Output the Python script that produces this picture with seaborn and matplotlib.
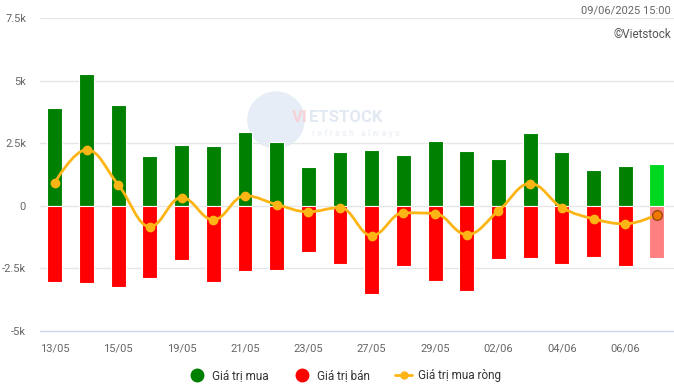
import numpy as np
import seaborn as sns
import matplotlib.pyplot as plt
from matplotlib.path import Path
from matplotlib.patches import PathPatch, Ellipse
from matplotlib.lines import Line2D

# du lieu (ty dong), doc tu bieu do
ngay = ['13/05', '14/05', '15/05', '16/05', '19/05', '20/05', '21/05', '22/05', '23/05', '26/05',
        '27/05', '28/05', '29/05', '30/05', '02/06', '03/06', '04/06', '05/06', '06/06', '09/06']
gia_tri_mua = [3920, 5280, 4040, 1970, 2440, 2400, 2960, 2560, 1560, 2160,
               2240, 2040, 2600, 2200, 1880, 2890, 2160, 1440, 1600, 1650]
gia_tri_ban = [-3030, -3080, -3240, -2880, -2160, -3030, -2600, -2560, -1840, -2310,
               -3520, -2400, -3000, -3400, -2120, -2080, -2310, -2040, -2400, -2080]
mua_rong = [930, 2240, 840, -830, 330, -560, 400, 50, -240, -70,
            -1190, -280, -310, -1150, -200, 890, -70, -520, -720, -360]
y_ticks = [-5000, -2500, 0, 2500, 5000, 7500]
y_labels = ['-5k', '-2.5k', '0', '2.5k', '5k', '7.5k']

sns.set_style('white')
plt.rcParams['font.family'] = ['Roboto', 'DejaVu Sans']

fig = plt.figure(figsize=(6.74, 3.85), dpi=100)
ax = fig.add_axes([40 / 674, 1 - 331 / 385, 634 / 674, 313 / 385])

n = len(ngay)
mau_mua = ['#008000'] * (n - 1) + ['#00D820']
mau_ban = ['#FF0000'] * (n - 1) + ['#FF8080']

for yt in y_ticks[1:]:
    ax.axhline(yt, color='#e6e6e6', lw=1, zorder=0)

# watermark (duoi cac cot)
ax.add_patch(Ellipse((276 / 674, 1 - 120 / 385), 56 / 674, 56 / 385, transform=fig.transFigure,
                     color='#e6edf6', zorder=0.5))
ax.text(292 / 674, 1 - 117 / 385, 'VI', transform=fig.transFigure, color='#f6d2d6', fontsize=12,
        fontweight='bold', va='center', zorder=0.6)
ax.text(309 / 674, 1 - 117 / 385, 'ETSTOCK', transform=fig.transFigure, color='#e2e9f3', fontsize=12,
        fontweight='bold', va='center', zorder=0.6)
ax.text(312 / 674, 1 - 133 / 385, 'r e f r e s h   a l w a y s', transform=fig.transFigure, color='#e8edf4',
        fontsize=6.5, va='center', zorder=0.6)

sns.barplot(x=ngay, y=gia_tri_mua, hue=ngay, palette=mau_mua, legend=False, width=0.47,
            saturation=1, edgecolor='white', linewidth=0.8, ax=ax, zorder=2)
sns.barplot(x=ngay, y=gia_tri_ban, hue=ngay, palette=mau_ban, legend=False, width=0.47,
            saturation=1, edgecolor='white', linewidth=0.8, ax=ax, zorder=2)

# duong cong kieu spline (highcharts)
xs = np.arange(n, dtype=float)
ys = np.array(mua_rong, dtype=float)
lc = [(xs[i], ys[i]) for i in range(n)]
rc = [(xs[i], ys[i]) for i in range(n)]
for i in range(1, n - 1):
    lx = (1.5 * xs[i] + xs[i - 1]) / 2.5
    ly = (1.5 * ys[i] + ys[i - 1]) / 2.5
    rx = (1.5 * xs[i] + xs[i + 1]) / 2.5
    ry = (1.5 * ys[i] + ys[i + 1]) / 2.5
    corr = ((ry - ly) * (rx - xs[i])) / (rx - lx) + ys[i] - ry
    ly += corr
    ry += corr
    if ly > ys[i - 1] and ly > ys[i]:
        ly = max(ys[i - 1], ys[i])
        ry = 2 * ys[i] - ly
    elif ly < ys[i - 1] and ly < ys[i]:
        ly = min(ys[i - 1], ys[i])
        ry = 2 * ys[i] - ly
    if ry > ys[i + 1] and ry > ys[i]:
        ry = max(ys[i + 1], ys[i])
        ly = 2 * ys[i] - ry
    elif ry < ys[i + 1] and ry < ys[i]:
        ry = min(ys[i + 1], ys[i])
        ly = 2 * ys[i] - ry
    lc[i] = (lx, ly)
    rc[i] = (rx, ry)
verts = [(xs[0], ys[0])]
codes = [Path.MOVETO]
for i in range(1, n):
    verts += [rc[i - 1], lc[i], (xs[i], ys[i])]
    codes += [Path.CURVE4] * 3
ax.add_patch(PathPatch(Path(verts, codes), fill=False, edgecolor='#FDB515', lw=2, zorder=3))
ax.plot(xs[:-1], ys[:-1], 'o', color='#FDB515', ms=6, mec='#FDB515', zorder=4)
ax.plot(xs[-1:], ys[-1:], 'o', color='#F07800', ms=7, mec='#9C4A10', mew=1, zorder=4)

ax.set_xlim(-0.47, n - 0.46)
ax.set_ylim(-5000, 7500)
ax.set_yticks(y_ticks)
ax.set_yticklabels(y_labels)
ax.set_xticks(range(0, n, 2))
ax.set_xticklabels(ngay[::2])
ax.set_xlabel('')
ax.set_ylabel('')
ax.tick_params(axis='both', length=0, labelsize=8, labelcolor='#666666')
ax.tick_params(axis='x', pad=9)
ax.tick_params(axis='y', pad=10)
for s in ['top', 'right', 'left']:
    ax.spines[s].set_visible(False)
ax.spines['bottom'].set_color('#ccd6eb')
ax.spines['bottom'].set_linewidth(1)

fig.text(671 / 674, 1 - 10 / 385, '09/06/2025 15:00', ha='right', va='center', fontsize=8, color='#666666')
fig.text(671 / 674, 1 - 34 / 385, '©Vietstock', ha='right', va='center', fontsize=8.5, color='#555555')

handles = [
    Line2D([], [], marker='o', ls='none', color='#008000', ms=9),
    Line2D([], [], marker='o', ls='none', color='#FF0000', ms=9),
    Line2D([], [], marker='o', ls='-', color='#FDB515', ms=5, lw=2),
]
fig.legend(handles, ['Giá trị mua', 'Giá trị bán', 'Giá trị mua ròng'], loc='center',
           bbox_to_anchor=(345 / 674, 1 - 376 / 385), ncol=3, frameon=False, fontsize=8.5,
           handlelength=1.4, handletextpad=0.5, columnspacing=2.2, labelcolor='#333333')

fig.savefig('out.png', dpi=100)
